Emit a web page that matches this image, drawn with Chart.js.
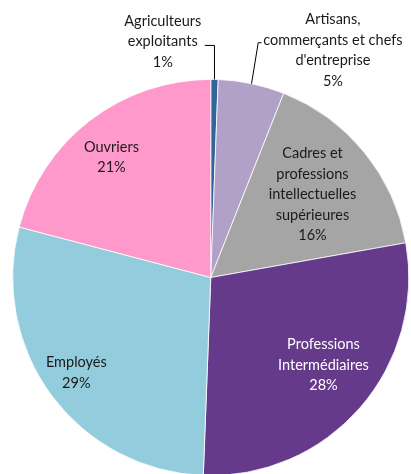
<!DOCTYPE html>
<html>
<head>
<meta charset="utf-8">
<script src="https://cdn.jsdelivr.net/npm/chart.js@4"></script>
<style>
  html, body { margin: 0; padding: 0; background: #fff; overflow: hidden; }
  #wrap { width: 411px; height: 476px; position: relative; }
</style>
</head>
<body>
<div id="wrap"><canvas id="pie"></canvas></div>
<script>
// categories (one line per entry) and shares in %
const categories = [
  ['Agriculteurs', 'exploitants'],
  ['Artisans,', 'commerçants et chefs', "d'entreprise"],
  ['Cadres et', 'professions', 'intellectuelles', 'supérieures'],
  ['Professions', 'Intermédiaires'],
  ['Employés'],
  ['Ouvriers']
];
const shares = [0.6, 5.4, 16.2, 28.4, 28.5, 20.9];
const colors = ['#31669A', '#B1A0C7', '#A5A5A5', '#663A8A', '#93CDDD', '#FF99CC'];
const textColors = ['#1a1a1a', '#1a1a1a', '#1a1a1a', '#ffffff', '#1a1a1a', '#1a1a1a'];

// where each label sits: inside = fraction of radius on the mid angle (+ nudge),
// outside = offsets from the slice's outer mid point (leader elbow, end, text)
const placement = [
  { out: true, elbow: [0, -34], end: [-9.7, -34], text: [-51.7, -38] },
  { out: true, elbow: [6.7, -40.9], end: [10, -41], text: [81.4, -33.2] },
  { f: 0.663, dx: 0, dy: 0 },
  { f: 0.721, dx: 5, dy: -6 },
  { f: 0.832, dx: -2, dy: -3 },
  { f: 0.788, dx: -4, dy: 3.5 }
];

const FONT = '14.5px Lato';
const LINE_H = 20.5;

const labelPlugin = {
  id: 'sliceLabels',
  afterDatasetsDraw(chart) {
    const ctx = chart.ctx;
    const arcs = chart.getDatasetMeta(0).data;
    ctx.save();
    ctx.font = FONT;
    ctx.textAlign = 'center';
    ctx.textBaseline = 'middle';
    arcs.forEach((arc, i) => {
      const p = placement[i];
      const mid = (arc.startAngle + arc.endAngle) / 2;
      const R = arc.outerRadius;
      let cx, cy;
      if (p.out) {
        const ex = arc.x + R * Math.cos(mid);
        const ey = arc.y + R * Math.sin(mid);
        ctx.strokeStyle = '#000';
        ctx.lineWidth = 1;
        ctx.beginPath();
        ctx.moveTo(ex, ey);
        ctx.lineTo(ex + p.elbow[0], ey + p.elbow[1]);
        ctx.lineTo(ex + p.end[0], ey + p.end[1]);
        ctx.stroke();
        cx = ex + p.text[0];
        cy = ey + p.text[1];
      } else {
        cx = arc.x + p.f * R * Math.cos(mid) + p.dx;
        cy = arc.y + p.f * R * Math.sin(mid) + p.dy;
      }
      const lines = categories[i].concat([Math.round(shares[i]) + '%']);
      const top = cy - (lines.length - 1) * LINE_H / 2;
      ctx.fillStyle = textColors[i];
      lines.forEach((t, k) => ctx.fillText(t, cx, top + k * LINE_H));
    });
    ctx.restore();
  }
};

new Chart(document.getElementById('pie'), {
  type: 'pie',
  data: {
    labels: categories,
    datasets: [{
      data: shares,
      backgroundColor: colors,
      borderColor: '#ffffff',
      borderWidth: 0.8
    }]
  },
  options: {
    responsive: true,
    maintainAspectRatio: false,
    animation: false,
    layout: { padding: { top: 79, left: 12, right: 1.5, bottom: 0 } },
    plugins: {
      legend: { display: false },
      tooltip: { enabled: false }
    }
  },
  plugins: [labelPlugin]
});
</script>
</body>
</html>
